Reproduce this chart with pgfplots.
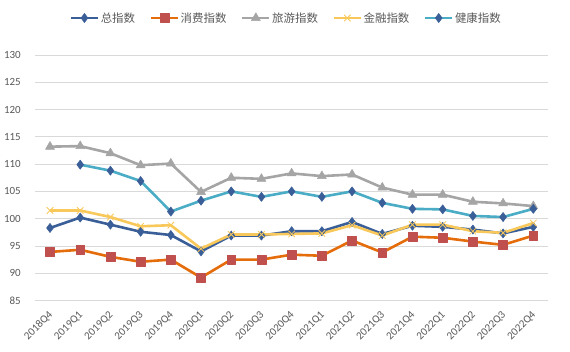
\documentclass[border=0pt]{standalone}
\usepackage{fontspec}
\setmainfont{Carlito}
\newfontfamily\cjk{Noto Sans CJK SC}
\usepackage{pgfplots}
\pgfplotsset{compat=1.18}
\definecolor{totc}{HTML}{3A5F98}
\definecolor{consl}{HTML}{E46C0A}
\definecolor{consm}{HTML}{C0504D}
\definecolor{tourc}{HTML}{A5A5A5}
\definecolor{finc}{HTML}{F8C85A}
\definecolor{healc}{HTML}{4BACC6}
\definecolor{gridc}{HTML}{D9D9D9}
\definecolor{txtc}{HTML}{595959}
\begin{document}
\begin{tikzpicture}
\path[use as bounding box] (0,0) rectangle (570bp,352bp);
\begin{axis}[
  at={(34.9bp,51.5bp)}, anchor=south west,
  scale only axis, width=513.5bp, height=245.5bp,
  xmin=-0.5, xmax=16.5, ymin=85, ymax=130,
  ytick={85,90,...,130},
  xtick={0,...,16},
  xticklabels={2018Q4,2019Q1,2019Q2,2019Q3,2019Q4,2020Q1,2020Q2,2020Q3,2020Q4,2021Q1,2021Q2,2021Q3,2021Q4,2022Q1,2022Q2,2022Q3,2022Q4},
  ymajorgrids, grid style={gridc, line width=0.8bp},
  axis line style={draw=none},
  major tick length=0,
  tick label style={font=\fontsize{11}{11}\selectfont, text=txtc},
  /pgf/number format/assume math mode=true,
  yticklabel style={anchor=east, inner sep=0pt, xshift=-14bp},
  xticklabel style={inner sep=0pt, yshift=-13bp, xshift=1bp, rotate=45, anchor=east},
  legend columns=5,
  legend style={at={(0.489,1.1507)}, anchor=center, draw=none, fill=none,
    font=\cjk\fontsize{11.5}{12}\selectfont, text=txtc,
    /tikz/every even column/.append style={column sep=13bp},
    nodes={inner sep=1.5bp}},
  legend image code/.code={\draw[mark repeat=2,mark phase=2,#1] plot coordinates {(0bp,0bp) (13.5bp,0bp) (27bp,0bp)};},
  every axis plot/.append style={line width=2.6bp, line join=round},
]
\addplot[totc, mark=diamond*, mark size=4.6bp, mark options={solid, fill=totc, draw=totc, line width=0.5bp}] coordinates {
(0,98.3)(1,100.2)(2,98.9)(3,97.6)(4,97.0)(5,94.0)(6,96.9)(7,96.9)(8,97.7)(9,97.7)(10,99.4)(11,97.2)(12,98.7)(13,98.5)(14,98.0)(15,97.3)(16,98.5)};
\addlegendentry{总指数}
\addplot[consl, mark=square*, mark size=4.4bp, mark options={solid, fill=consm, draw=consm, line width=0.5bp}] coordinates {
(0,93.9)(1,94.3)(2,93.0)(3,92.1)(4,92.5)(5,89.2)(6,92.5)(7,92.5)(8,93.4)(9,93.2)(10,96.0)(11,93.8)(12,96.7)(13,96.5)(14,95.8)(15,95.2)(16,96.9)};
\addlegendentry{消费指数}
\addplot[tourc, mark=triangle*, mark size=5.2bp, mark options={solid, fill=tourc, draw=tourc, line width=0.5bp}] coordinates {
(0,113.2)(1,113.3)(2,112.0)(3,109.8)(4,110.1)(5,104.9)(6,107.5)(7,107.3)(8,108.3)(9,107.8)(10,108.1)(11,105.7)(12,104.4)(13,104.4)(14,103.1)(15,102.8)(16,102.3)};
\addlegendentry{旅游指数}
\addplot[finc, mark=x, mark size=4.6bp, mark options={solid, draw=finc, line width=0.8bp}] coordinates {
(0,101.5)(1,101.5)(2,100.3)(3,98.6)(4,98.8)(5,94.5)(6,97.1)(7,97.1)(8,97.2)(9,97.3)(10,98.8)(11,96.9)(12,98.9)(13,98.9)(14,97.7)(15,97.4)(16,99.2)};
\addlegendentry{金融指数}
\addplot[healc, mark=diamond*, mark size=4.6bp, mark options={solid, fill=totc, draw=totc, line width=0.5bp}] coordinates {
(1,109.9)(2,108.8)(3,106.9)(4,101.3)(5,103.3)(6,105.0)(7,104.0)(8,105.0)(9,104.0)(10,105.0)(11,102.9)(12,101.8)(13,101.7)(14,100.5)(15,100.3)(16,101.8)};
\addlegendentry{健康指数}
\end{axis}
\end{tikzpicture}
\end{document}
